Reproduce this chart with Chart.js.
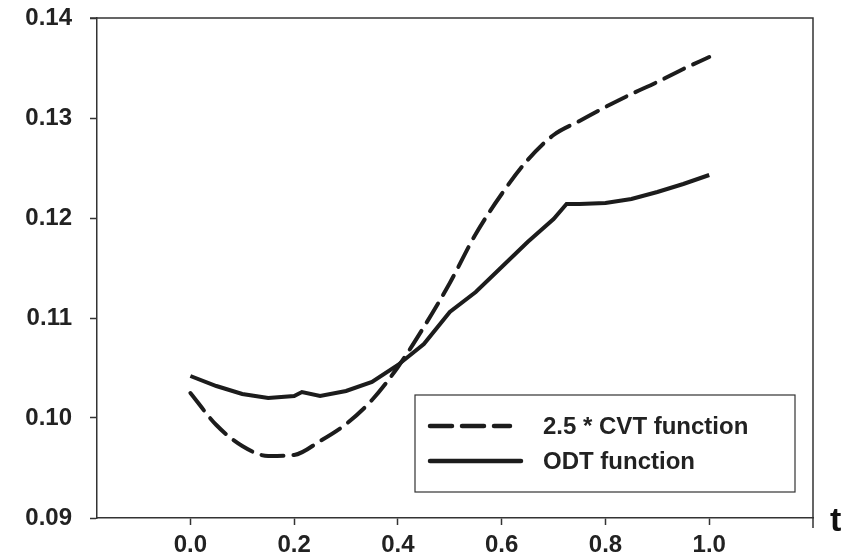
<!DOCTYPE html>
<html lang="en">
<head>
    <meta charset="UTF-8">
    <title>CVT vs ODT</title>
    <style>
        html, body { margin: 0; padding: 0; background: #fff; }
        #wrap { width: 843px; height: 556px; position: relative; }
    </style>
</head>
<body>
    <div id="wrap"><canvas id="chart" width="843" height="556"></canvas></div>

    <script src="https://cdn.jsdelivr.net/npm/chart.js"></script>
    <script>
        // values
        const tValues   = [0, 0.05, 0.1, 0.15, 0.2, 0.25, 0.3, 0.35, 0.4, 0.45, 0.5, 0.55, 0.6, 0.65, 0.7, 0.75, 0.8, 0.85, 0.9, 0.95, 1.0];
        const cvtValues = [0.1025, 0.0993, 0.0972, 0.0962, 0.0963, 0.0977, 0.0994, 0.1018, 0.1051, 0.1091, 0.1135, 0.1184, 0.1224, 0.1258, 0.1283, 0.1297, 0.1311, 0.1324, 0.1336, 0.1349, 0.1361];
        const odtT      = [0, 0.05, 0.1, 0.15, 0.2, 0.215, 0.25, 0.3, 0.35, 0.4, 0.45, 0.5, 0.55, 0.6, 0.65, 0.7, 0.725, 0.75, 0.8, 0.85, 0.9, 0.95, 1.0];
        const odtValues = [0.1042, 0.1032, 0.1024, 0.1020, 0.1022, 0.1026, 0.1022, 0.1027, 0.1036, 0.1053, 0.1074, 0.1106, 0.1126, 0.1151, 0.1176, 0.1199, 0.1214, 0.1214, 0.1215, 0.1219, 0.1226, 0.1234, 0.1243];
        const xTicks = [0, 0.2, 0.4, 0.6, 0.8, 1.0];
        const yTicks = [0.09, 0.10, 0.11, 0.12, 0.13, 0.14];
        const seriesLabels = ['2.5 * CVT function', 'ODT function'];

        const FONT = '"Liberation Sans", Arial, sans-serif';
        const INK = '#1c1c1c';

        // frame, legend box and the "t" axis label
        const extras = {
            id: 'extras',
            afterDraw(chart) {
                const ctx = chart.ctx;
                const a = chart.chartArea;
                ctx.save();
                ctx.strokeStyle = '#333';
                ctx.lineWidth = 1.5;
                ctx.beginPath();
                ctx.moveTo(a.left - 7, a.top);
                ctx.lineTo(a.right, a.top);
                ctx.lineTo(a.right, a.bottom + 10);
                ctx.stroke();

                // legend
                ctx.lineWidth = 1.2;
                ctx.strokeRect(415, 395, 380, 97);
                chart.data.datasets.forEach((ds, i) => {
                    const y = 426 + i * 35;
                    ctx.strokeStyle = INK;
                    ctx.lineWidth = 4.5;
                    ctx.lineCap = 'round';
                    ctx.setLineDash(ds.borderDash || []);
                    ctx.beginPath();
                    ctx.moveTo(430, y);
                    ctx.lineTo(i === 0 ? 510 : 521, y);
                    ctx.stroke();
                    ctx.setLineDash([]);
                    ctx.fillStyle = '#222';
                    ctx.font = 'bold 24px ' + FONT;
                    ctx.textBaseline = 'middle';
                    ctx.fillText(ds.label, 543, y + 1);
                });

                ctx.fillStyle = '#111';
                ctx.font = 'bold 34px ' + FONT;
                ctx.textBaseline = 'middle';
                ctx.fillText('t', 830, a.bottom + 4);
                ctx.restore();
            }
        };

        new Chart(document.getElementById('chart'), {
            type: 'line',
            data: {
                datasets: [
                    {
                        label: seriesLabels[0],
                        data: tValues.map((t, i) => ({ x: t, y: cvtValues[i] })),
                        borderColor: INK,
                        borderWidth: 4,
                        borderDash: [22, 10],
                        borderCapStyle: 'round',
                        pointRadius: 0,
                        cubicInterpolationMode: 'monotone',
                        fill: false
                    },
                    {
                        label: seriesLabels[1],
                        data: odtT.map((t, i) => ({ x: t, y: odtValues[i] })),
                        borderColor: INK,
                        borderWidth: 4,
                        pointRadius: 0,
                        tension: 0,
                        fill: false
                    }
                ]
            },
            options: {
                responsive: false,
                animation: false,
                layout: { padding: { left: 0, top: 18, right: 30, bottom: 0 } },
                plugins: { legend: { display: false }, tooltip: { enabled: false } },
                scales: {
                    x: {
                        type: 'linear',
                        min: -0.18,
                        max: 1.2,
                        afterBuildTicks: s => { s.ticks = xTicks.map(v => ({ value: v })); },
                        afterFit: s => { s.height = 38; s.paddingLeft = 0; s.paddingRight = 0; },
                        grid: { drawOnChartArea: false, tickLength: 7, tickColor: '#333', tickWidth: 1.5 },
                        border: { color: '#333', width: 1.5 },
                        ticks: {
                            padding: 6,
                            maxRotation: 0,
                            color: '#222',
                            font: { family: FONT, size: 24, weight: 'bold' },
                            callback: v => Number(v).toFixed(1)
                        }
                    },
                    y: {
                        min: 0.09,
                        max: 0.14,
                        afterBuildTicks: s => { s.ticks = yTicks.map(v => ({ value: v })); },
                        afterFit: s => { s.width = 97; s.paddingTop = 0; s.paddingBottom = 0; },
                        grid: { drawOnChartArea: false, tickLength: 7, tickColor: '#333', tickWidth: 1.5 },
                        border: { color: '#333', width: 1.5 },
                        ticks: {
                            padding: 18,
                            color: '#222',
                            font: { family: FONT, size: 24, weight: 'bold' },
                            callback: v => Number(v).toFixed(2)
                        }
                    }
                }
            },
            plugins: [extras]
        });
    </script>
</body>
</html>
